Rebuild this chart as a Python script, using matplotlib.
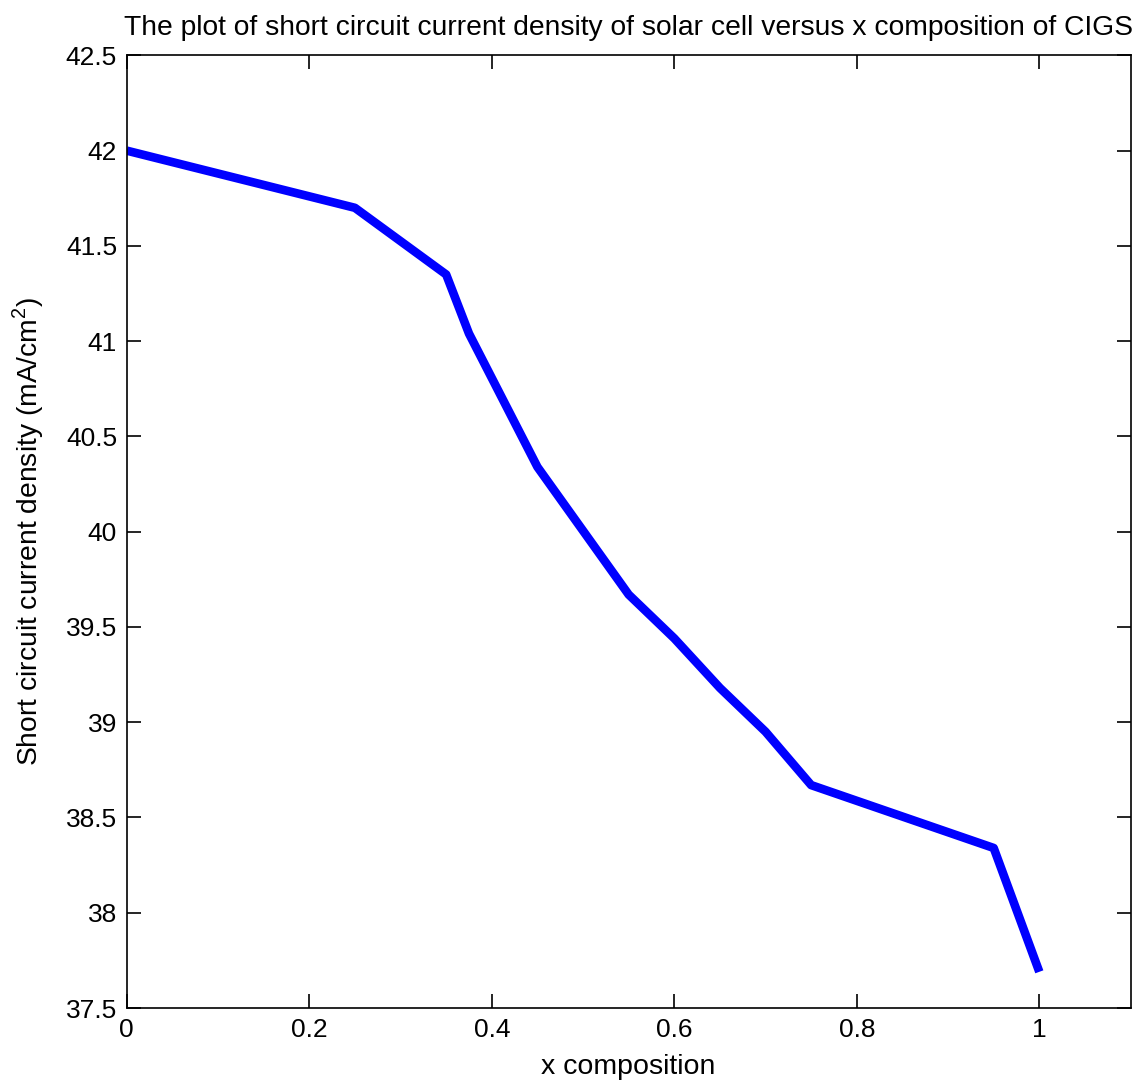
import matplotlib
matplotlib.use("Agg")
import matplotlib.pyplot as plt
from matplotlib import font_manager

x_comp = [0.0, 0.25, 0.35, 0.375, 0.45, 0.55, 0.60, 0.65, 0.70, 0.75, 0.95, 1.0]
jsc = [42.0, 41.70, 41.35, 41.04, 40.34, 39.67, 39.44, 39.18, 38.95, 38.67, 38.34, 37.69]
x_ticks = [0, 0.2, 0.4, 0.6, 0.8, 1.0]
x_ticklabels = ["0", "0.2", "0.4", "0.6", "0.8", "1"]
y_ticks = [37.5, 38, 38.5, 39, 39.5, 40, 40.5, 41, 41.5, 42, 42.5]
y_ticklabels = ["37.5", "38", "38.5", "39", "39.5", "40", "40.5", "41", "41.5", "42", "42.5"]

names = {f.name for f in font_manager.fontManager.ttflist}
fam = [n for n in ["Liberation Sans Narrow", "Liberation Sans"] if n in names] + ["DejaVu Sans"]
plt.rcParams['font.family'] = fam
plt.rcParams['mathtext.fontset'] = 'custom'
plt.rcParams['mathtext.rm'] = fam[0]

fig = plt.figure(figsize=(11.42, 10.86), dpi=100)
ax = fig.add_axes([0.111, 0.0718, 0.879, 0.8772])
ax.plot(x_comp, jsc, color=(0, 0, 1), linewidth=6.2, solid_joinstyle='round', solid_capstyle='butt')
ax.set_xlim(0, 1.1)
ax.set_ylim(37.5, 42.5)
ax.set_xticks(x_ticks)
ax.set_xticklabels(x_ticklabels)
ax.set_yticks(y_ticks)
ax.set_yticklabels(y_ticklabels)
ax.tick_params(direction='in', length=10, width=1.2, top=True, right=True, labelsize=19, pad=7)
for s in ax.spines.values():
    s.set_linewidth(1.2)
ax.set_title("The plot of short circuit current density of solar cell versus x composition of CIGS", fontsize=20.3, pad=15)
ax.set_xlabel("x composition", fontsize=20.5, labelpad=9)
ax.set_ylabel("Short circuit current density (mA/cm$^2$)", fontsize=20.3, labelpad=14)
fig.savefig("out.png", dpi=100)
